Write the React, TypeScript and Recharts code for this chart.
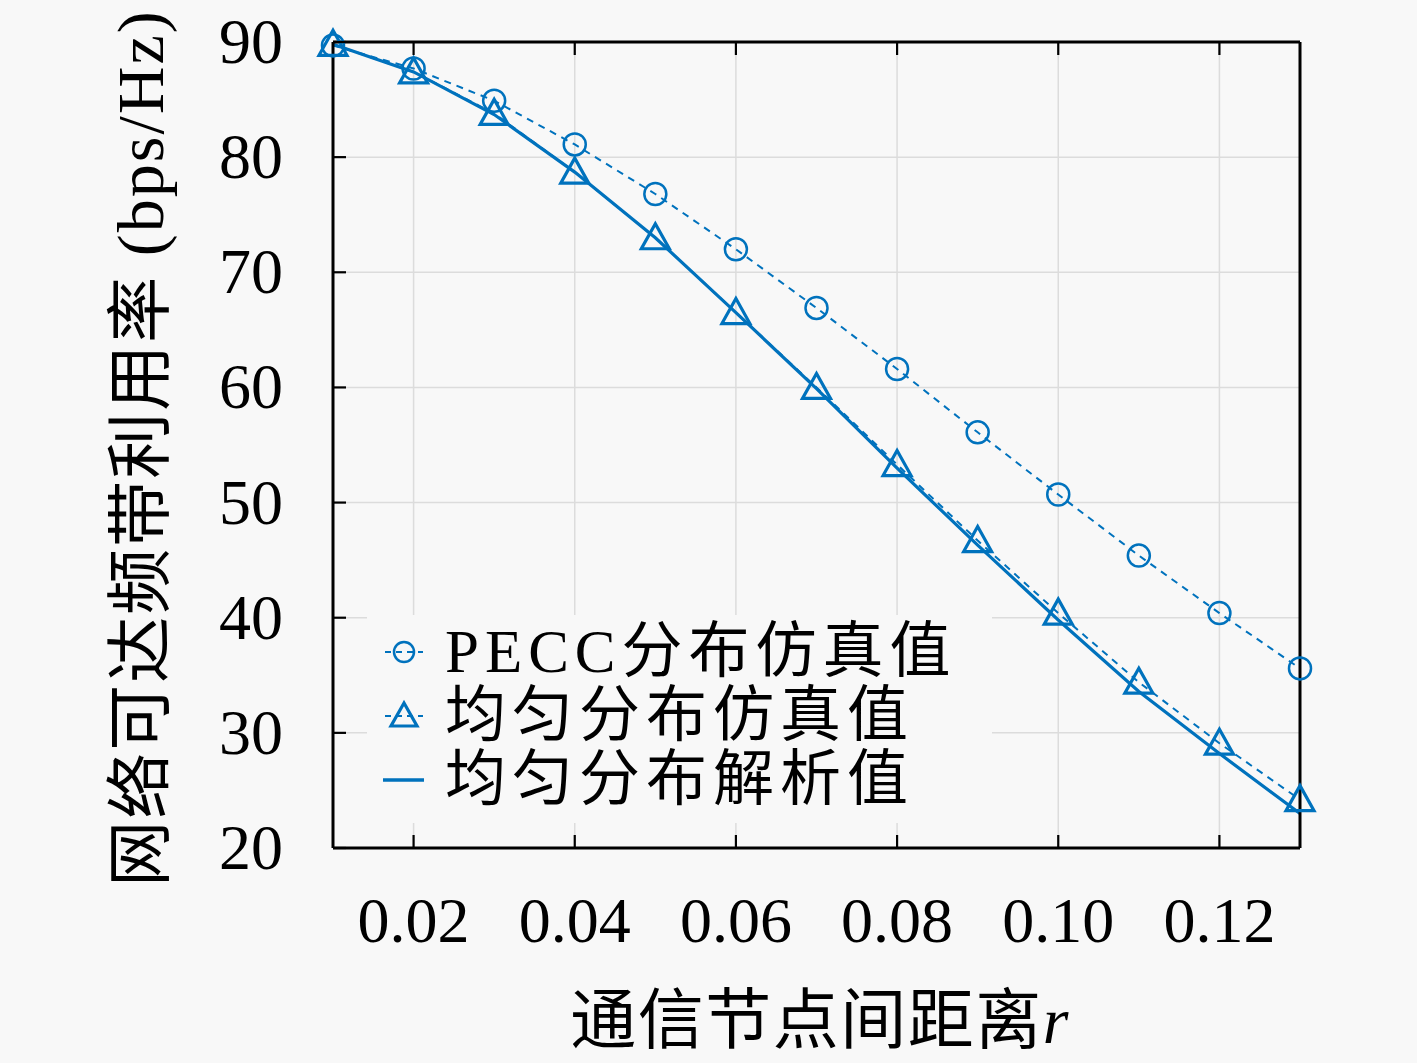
import React from 'react';
import { LineChart, Line, XAxis, YAxis, CartesianGrid, Legend } from 'recharts';

const distances = [0.01, 0.02, 0.03, 0.04, 0.05, 0.06, 0.07, 0.08, 0.09, 0.1, 0.11, 0.12, 0.13];
const peccSim = [89.7, 87.7, 84.9, 81.1, 76.8, 72.0, 66.9, 61.6, 56.1, 50.7, 45.4, 40.4, 35.6];
const uniformSim = [89.8, 87.4, 83.8, 78.7, 73.0, 66.5, 60.0, 53.3, 46.7, 40.4, 34.4, 29.1, 24.2];
const uniformAnalytic = [89.8, 87.4, 83.7, 78.7, 73.0, 66.5, 59.9, 53.0, 46.3, 39.8, 33.6, 28.2, 23.0];
const xTicks = [0.02, 0.04, 0.06, 0.08, 0.1, 0.12];
const yTicks = [20, 30, 40, 50, 60, 70, 80, 90];
const seriesNames = ['PECC分布仿真值', '均匀分布仿真值', '均匀分布解析值'];
const xLabel = '通信节点间距离';
const yLabel = '网络可达频带利用率 (bps/Hz)';

const data = distances.map((r, i) => ({
  r,
  pecc: peccSim[i],
  sim: uniformSim[i],
  ana: uniformAnalytic[i],
}));

const BLUE = '#0072BD';
const BG = '#f8f8f8';
const FONT = '"Liberation Serif", "Noto Sans CJK SC", serif';
const TICK_LEN = 13;

const CircleDot = (props: any) => {
  const { cx, cy, index } = props;
  if (cx == null || cy == null) return <g key={`c${index}`} />;
  return <circle key={`c${index}`} cx={cx} cy={cy} r={11} fill="none" stroke={BLUE} strokeWidth={2.5} />;
};

const TriDot = (props: any) => {
  const { cx, cy, index } = props;
  if (cx == null || cy == null) return <g key={`t${index}`} />;
  const pts = `${cx},${cy - 14} ${cx - 14},${cy + 11} ${cx + 14},${cy + 11}`;
  return <polygon key={`t${index}`} points={pts} fill="none" stroke={BLUE} strokeWidth={3.2} strokeLinejoin="miter" />;
};

const XTick = (props: any) => {
  const { x, y, payload } = props;
  return (
    <g>
      <line x1={x} x2={x} y1={y} y2={y - TICK_LEN} stroke="#000" strokeWidth={2.2} />
      <text x={x} y={y + 94} textAnchor="middle" fontSize={64} fontFamily={FONT} fill="#000">
        {Number(payload.value).toFixed(2)}
      </text>
    </g>
  );
};

const XTopTick = (props: any) => {
  const { x, y } = props;
  return <line x1={x} x2={x} y1={y} y2={y + TICK_LEN} stroke="#000" strokeWidth={2.2} />;
};

const YTick = (props: any) => {
  const { x, y, payload } = props;
  return (
    <g>
      <line x1={x} x2={x + TICK_LEN} y1={y} y2={y} stroke="#000" strokeWidth={2.2} />
      <text x={x - 50} y={y + 21} textAnchor="end" fontSize={64} fontFamily={FONT} fill="#000">
        {payload.value}
      </text>
    </g>
  );
};

const YRightTick = (props: any) => {
  const { x, y } = props;
  return <line x1={x} x2={x - TICK_LEN} y1={y} y2={y} stroke="#000" strokeWidth={2.2} />;
};

const LegendIcon = ({ kind }: { kind: string }) => (
  <svg width={80} height={64} style={{ display: 'block', flex: '0 0 auto' }}>
    {kind === 'ana' ? (
      <line x1={16} x2={57} y1={32} y2={32} stroke={BLUE} strokeWidth={3.5} />
    ) : (
      <line x1={18} x2={56} y1={32} y2={32} stroke={BLUE} strokeWidth={2} strokeDasharray="6 5" />
    )}
    {kind === 'pecc' && <circle cx={37} cy={32} r={10} fill="none" stroke={BLUE} strokeWidth={2.5} />}
    {kind === 'sim' && (
      <polygon points="37,19 24,42 50,42" fill="none" stroke={BLUE} strokeWidth={3.2} />
    )}
  </svg>
);

const LegendContent = (props: any) => {
  const payload = props.payload || [];
  return (
    <div
      style={{
        width: '100%',
        height: '100%',
        background: BG,
        fontFamily: FONT,
        fontSize: 61,
        letterSpacing: 6,
        color: '#000',
        paddingTop: 5,
        boxSizing: 'border-box',
      }}
    >
      {payload.map((entry: any) => (
        <div key={entry.dataKey} style={{ display: 'flex', alignItems: 'center', height: 64 }}>
          <LegendIcon kind={entry.dataKey} />
          <span style={{ lineHeight: '62px', whiteSpace: 'nowrap', marginLeft: -2 }}>{entry.value}</span>
        </div>
      ))}
    </div>
  );
};

const XLabel = () => (
  <text
    x={820}
    y={1020}
    textAnchor="middle"
    dominantBaseline="central"
    fontSize={66}
    letterSpacing={1.5}
    fontFamily={FONT}
    fill="#000"
  >
    {xLabel}
    <tspan fontStyle="italic">r</tspan>
  </text>
);

const YLabel = () => (
  <text
    x={140}
    y={448}
    transform="rotate(-90, 140, 448)"
    textAnchor="middle"
    dominantBaseline="central"
    fontSize={66}
    letterSpacing={2}
    fontFamily={FONT}
    fill="#000"
  >
    {yLabel}
  </text>
);

export default function App() {
  return (
    <div style={{ position: 'absolute', left: 0, top: 0, width: 1417, height: 1063, background: BG }}>
      <LineChart width={1417} height={1063} data={data} margin={{ top: 41, right: 116, bottom: 0, left: 0 }}>
        <CartesianGrid stroke="#dcdcdc" strokeWidth={1.5} />
        <XAxis
          xAxisId={0}
          dataKey="r"
          type="number"
          domain={[0.01, 0.13]}
          ticks={xTicks}
          interval={0}
          height={215}
          tickSize={0}
          tickMargin={0}
          tickLine={false}
          tick={<XTick />}
          axisLine={{ stroke: '#000', strokeWidth: 3 }}
          label={{ content: () => <XLabel /> }}
        />
        <XAxis
          xAxisId="top"
          orientation="top"
          dataKey="r"
          type="number"
          domain={[0.01, 0.13]}
          ticks={xTicks}
          interval={0}
          height={1}
          tickSize={0}
          tickMargin={0}
          tickLine={false}
          tick={<XTopTick />}
          axisLine={{ stroke: '#000', strokeWidth: 3 }}
        />
        <YAxis
          yAxisId={0}
          type="number"
          domain={[20, 90]}
          ticks={yTicks}
          interval={0}
          width={333}
          tickSize={0}
          tickMargin={0}
          tickLine={false}
          tick={<YTick />}
          axisLine={{ stroke: '#000', strokeWidth: 3 }}
          label={{ content: () => <YLabel /> }}
        />
        <YAxis
          yAxisId="right"
          orientation="right"
          type="number"
          domain={[20, 90]}
          ticks={yTicks}
          interval={0}
          width={1}
          tickSize={0}
          tickMargin={0}
          tickLine={false}
          tick={<YRightTick />}
          axisLine={{ stroke: '#000', strokeWidth: 3 }}
        />
        <Legend
          layout="horizontal"
          verticalAlign="middle"
          align="center"
          content={<LegendContent />}
          wrapperStyle={{ left: 367, top: 615, width: 625, height: 208 }}
        />
        <Line
          dataKey="pecc"
          name={seriesNames[0]}
          stroke={BLUE}
          strokeWidth={2}
          strokeDasharray="7 6"
          dot={CircleDot}
          activeDot={false}
          isAnimationActive={false}
        />
        <Line
          dataKey="sim"
          name={seriesNames[1]}
          stroke={BLUE}
          strokeWidth={2}
          strokeDasharray="7 6"
          dot={TriDot}
          activeDot={false}
          isAnimationActive={false}
        />
        <Line
          dataKey="ana"
          name={seriesNames[2]}
          stroke={BLUE}
          strokeWidth={3.2}
          dot={false}
          activeDot={false}
          isAnimationActive={false}
        />
      </LineChart>
    </div>
  );
}
